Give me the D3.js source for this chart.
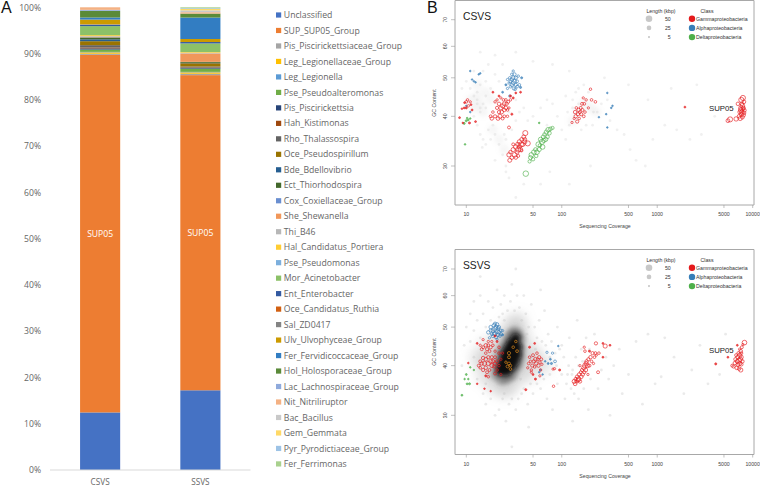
<!DOCTYPE html>
<html><head><meta charset="utf-8">
<script src="https://cdnjs.cloudflare.com/ajax/libs/d3/7.8.5/d3.min.js"></script>
<style>html,body{margin:0;background:#fff}svg{display:block}text{font-family:"Open Sans","Liberation Sans",sans-serif}</style>
</head><body><svg id="c" width="760" height="487"></svg>
<script>
const taxa=["Unclassified","SUP_SUP05_Group","Pis_Piscirickettsiaceae_Group","Leg_Legionellaceae_Group","Leg_Legionella","Pse_Pseudoalteromonas","Pis_Piscirickettsia","Hah_Kistimonas","Rho_Thalassospira","Oce_Pseudospirillum","Bde_Bdellovibrio","Ect_Thiorhodospira","Cox_Coxiellaceae_Group","She_Shewanella","Thi_B46","Hal_Candidatus_Portiera","Pse_Pseudomonas","Mor_Acinetobacter","Ent_Enterobacter","Oce_Candidatus_Ruthia","Sal_ZD0417","Ulv_Ulvophyceae_Group","Fer_Fervidicoccaceae_Group","Hol_Holosporaceae_Group","Lac_Lachnospiraceae_Group","Nit_Nitriliruptor","Bac_Bacillus","Gem_Gemmata","Pyr_Pyrodictiaceae_Group","Fer_Ferrimonas"];
const taxaColors=["#4472C4","#ED7D31","#A5A5A5","#FFC000","#5B9BD5","#70AD47","#264478","#9E480E","#636363","#997300","#255E91","#43682B","#698ED0","#F1975A","#B7B7B7","#FFCD33","#7CAFDD","#8CC168","#335AA1","#D26012","#848484","#CC9A00","#327DC2","#5A8A39","#8FAADC","#F4B183","#C9C9C9","#FFD966","#9DC3E6","#A9D18E"];
const samples=["CSVS","SSVS"];
const csvsShare=[12.4,77.0,.25,.3,.1,.5,.25,.2,.5,.85,.4,.4,.05,.1,.15,.2,0,1.95,.25,.05,.1,1.0,.45,1.45,.2,.55,0,0,0,0];
const ssvsShare=[17.1,67.6,.3,.3,.1,.7,.2,.1,.15,.7,.1,.2,0,1.8,.15,.15,0,1.85,.3,0,0,.65,4.6,.85,0,.3,.4,.3,.15,.2];
const yTicks=[0,10,20,30,40,50,60,70,80,90,100];

const classNames=["Gammaproteobacteria","Alphaproteobacteria","Deltaproteobacteria"];
const classColors=["#E41A1C","#377EB8","#4DAF4A"];
const lengthKeys=[50,25,5];
const xTickVals=[10,50,100,500,1000,5000,10000];
const gcTicks=[30,40,50,60,70];

const csvsGamma=[[18,40,10],[18.5,39.5,14],[19,41,8],[20,43.5,7],[20,40,12],[21,42,12],[21,44,6],[21.5,39.5,16],[22,41,12],[22,43,14],[22.5,40,20],[23,42,18],[23,44.5,6],[23.5,41,15],[24,39.5,10],[24,42.5,20],[24.5,44,8],[25,41.5,14],[25,43,18],[25,40,9],[26,42,15],[26,44,8],[26.5,43,12],[27,40,7],[27,41.5,8],[27.5,43.5,10],[28,42,6],[29,44,7],[30,40.5,5],[31,44.5,5],[33,45.8,4],[37,46,4],[28,37.5,10],[22,45,4],[19,46,4],[29,45,5],
[28.5,31,18],[28,32,22],[29,32.5,14],[30,31.5,16],[31,33,20],[32,32,25],[33,31.5,14],[33,33.5,25],[34,32.5,18],[34.5,34,20],[35,33,30],[36,33.5,18],[36,34.5,22],[37,33,20],[37.5,34,28],[38,35,16],[39,34,22],[40,35.5,18],[41,34.5,20],[41.5,36.3,30],[41,35,16],[44,34.2,30],[31,34,10],[35,31.8,10],[38,32.8,8],
[8.5,39.7,4],[9,41.8,3],[9.5,42,4],[10,43.5,8],[10.3,44,7],[10.5,42.5,7],[10,42,5],[11,43.5,6],[11.2,42.8,4],[10.8,38.5,5],[12.5,38.8,4],[9.2,38.5,3],[11.5,41.5,4],[9.6,43.3,4],
[128,38.6,6],[135,39.5,6],[138,41,14],[140,40,14],[142,42,8],[145,38.8,12],[148,40.5,12],[150,41.5,14],[152,39.5,8],[155,41,10],[158,42,10],[160,40.5,12],[163,43,10],[165,41.5,10],[168,44.5,6],[170,40,9],[172,43,9],[175,41,8],[180,44,7],[190,42,6],[200,46.8,7],[205,44,8],[225,43.5,8],
[6700,39.4,22],[5800,39.3,30],[5500,39,16],[7000,43,14],[7200,40,16],[7300,41,15],[7400,39.5,20],[7500,42,20],[7500,41.5,25],[7600,40.5,20],[7600,44,30],[7700,41,22],[7700,43,15],[7800,42.5,25],[7800,39.8,16],[7900,44.5,30],[7900,41.8,18],[8000,40.3,18],[8000,42,16],[8100,43.5,15],[8100,40.8,16],[8200,41.4,14],[1950,42.2,4]];
const csvsAlpha=[[26,48,5],[27,47,6],[28,48.5,6],[28.5,50,7],[29,49,10],[29,47.5,8],[30,51,8],[30,49.5,14],[30,48,14],[31,52,6],[31,50,16],[31,48.5,16],[31.5,47,12],[32,49,16],[32,51,12],[32.5,46.8,8],[33,50,12],[33,48,12],[34,49,10],[34,47.5,9],[35,50.5,7],[36,48,8],[37,47.3,5],[38,50,5],[27,49.5,6],[24,46,4],[28.5,45,6],[11,52,3],[11.5,49.5,3],[12,49,3],[12.5,48.7,3],[13.5,51,3],[14,51.3,3],[10,42.5,3],[11,41,3],[245,39.8,3],[300,45.8,3],[330,42,3],[340,42.5,3],[292,40.5,3],[300,37.5,3]];
const csvsDelta=[[42,28.7,35],[46,30.8,12],[47,31.5,18],[48,32,25],[50,31.2,14],[51,32.5,25],[53,33,16],[54,31.8,14],[55,32.5,25],[57,34,30],[58,33,20],[59,33.8,14],[60,35,22],[62,34.5,30],[63,33.5,25],[64,35.5,18],[65,34.8,22],[66,36,15],[68,35,20],[69,36.5,22],[71,35.5,14],[72,37,25],[74,36.3,18],[76,37.2,16],[80,37.4,12],[58,38.5,3],[9.5,38.4,5],[10,39,5],[10.5,39.2,4],[11,39.5,3],[9.7,34,3],[10.2,39.6,3]];
const csvsGrey=[[9,47],[10,49],[11,47],[12,45],[13,43],[14,41],[15,43],[16,45],[13,46],[14,48],[16,49],[18,47],[20,51],[22,49],[24,54],[13,38],[14,36],[15,35],[16,34],[18,35],[20,36],[22,34],[24,32],[26,30],[28,28],[26,29],[20,31],[17,37],[19,38],[25,36],[30,37],[33,39],[36,41],[40,42],[44,39],[50,40],[60,42],[70,44],[80,43],[90,40],[100,37],[120,38],[130,44],[140,46],[150,47],[170,48],[190,46],[215,41],[235,41],[260,43],[300,44],[320,39],[380,37],[450,36],[520,33],[600,31],[750,30],[900,35],[1200,38],[1600,37],[2200,35],[2900,36],[4000,40],[2600,48],[1400,47],[800,44],[500,48],[280,50],[120,52],[80,54],[50,55],[33,58],[20,57],[14,58],[12,52],[15,52],[17,54],[28,41],[33,44],[14,42],[13,44],[16,42],[12,40],[150,43],[130,42],[160,37],[180,38],[210,38],[115,41],[110,35],[75,29],[60,27],[120,27],[200,30],[40,27],[33,25],[110,45],[70,38],[26,35],[14.7,33.4]];
const csvsSmudge=[[11,44],[12,42],[13,45],[14,43],[15,41],[13,48],[16,46],[18,44],[19,37],[22,35],[25,33],[150,41],[170,43],[200,42],[130,39],[230,41]];

const ssvsGamma=[[13,45.5,4],[14,45,6],[14.5,44,10],[15,46.5,6],[15,44.5,10],[16,45,14],[16,43,8],[16.5,44,12],[17,46,6],[17,45,10],[17.5,43.5,10],[18,44.5,12],[18.5,46,6],[19,45,8],[20,47.5,5],[20,43.5,7],[21,46,5],[22,44.5,8],[13.5,40,10],[14,41,10],[14,39.5,8],[14.5,40.5,14],[15,41.8,14],[15,39,12],[15.5,40.5,20],[16,41.5,16],[16,39.5,14],[16.5,38.5,10],[17,40.5,20],[17,42,12],[17.5,39,10],[18,41,18],[18.5,40,18],[18.5,42,12],[19,41,16],[19.5,39.8,12],[20,40.5,15],[20,42,10],[20,38.2,10],[21,41,12],[21,39,8],[22,43,8],[22,40,8],[23,41.5,7],[24,43,6],[23,38,6],[17,37.5,7],[16,37.7,5],[13,36,3],[15.5,35,3],[18,34.5,3],[10.5,40.6,3],
[44,39.5,6],[45,40.5,8],[46,42,8],[47,41,7],[48,39,7],[48,38.5,6],[49,40,12],[50,42.5,10],[51,41,12],[52,39.7,8],[53,41.5,16],[54,40.5,14],[55,43,8],[56,41.5,10],[57,40,14],[58,42,12],[59,40.8,8],[60,39,7],[61,41.5,10],[62,40.3,6],[46,44.5,5],[52,45.5,4],[50,38,4],[53,37,5],[59,37.7,6],[42,34.8,5],[81,39.2,6],[84,39.3,6],[95,39,5],[82,35.5,7],
[135,36.5,20],[138,36,16],[140,37,14],[143,36.5,12],[145,37.5,15],[148,36.8,18],[150,37,25],[152,38,14],[155,36.5,14],[158,38.5,10],[160,37.5,16],[163,39,12],[166,38,14],[170,39.5,20],[172,38.5,12],[175,40,25],[178,39,18],[180,40.5,20],[182,41,14],[186,40,20],[190,41.5,12],[195,40,10],[200,42,14],[205,41,8],[210,43,12],[215,40.5,6],[220,42,8],[225,43,10],[230,42.5,6],[240,38.5,10],[175,43.5,8],[172,44.5,6],[228,45.5,12],[245,43,8],[270,45.5,4],[285,44.8,20],[320,45,4],[270,42,4],[188,38,6],[155,40,6],[195,43.5,5],
[4100,40.4,5],[5500,42,4],[6100,40,10],[6300,39.8,12],[6500,40.6,14],[6600,41.5,14],[6700,42.5,10],[6800,39.5,16],[6900,41,20],[7000,40.2,16],[7000,42,20],[7100,43,12],[7200,39.3,14],[7200,41.2,25],[7300,42.5,22],[7300,40.5,20],[7400,41.5,25],[7500,43.5,14],[7500,39,20],[7600,42,18],[7600,40.3,14],[7700,44.5,10],[7800,41,14],[7300,44,6],[6900,45,4],[8200,45.7,25],[7900,45.2,6],[7600,43,10]];
const ssvsAlpha=[[17,48.5,14],[17.5,47,6],[18,49,12],[18,50,14],[18.5,48,10],[19,49,16],[19,47.5,14],[19.5,50.5,16],[19.5,48,16],[20,51,12],[20,49.5,25],[20,48.2,18],[20.5,47.2,14],[20.5,50,18],[21,48.8,22],[21,50.8,14],[21.5,47.8,16],[21.5,49.6,16],[22,48.5,16],[22,50,12],[22.5,47.5,10],[23,49,10],[23,48,12],[24,49,6],[24,47.8,5],[21,46.6,6],[92,44.8,3],[70,43.2,6],[80,43,6],[67,41,3],[72,40.5,4],[76,41.5,4],[85,41,9],[78,40.5,5],[58,38.5,3],[60,39,3],[63,38,3]];
const ssvsDelta=[[10,38,4],[10.5,37,3],[10.8,36,5],[10.2,36,4],[9,33.7,4],[12,39,3],[11,39.6,3],[9.6,37,3]];
const ssvsOrange=[[31,44.5,8],[28,43,12],[28,42,10],[33,46,7],[34,43.5,9],[28,40.5,10],[29,40,8],[26,40.8,7],[27,39.8,9],[29,39.2,8]];
const ssvsCore=[[22.5,38.8],[23,40],[23.5,39],[24,41],[24.5,38.6],[25,40],[25,42.5],[26,39],[26,41.5],[26.5,43.5],[27,38.8],[27,40.5],[28,39.5],[28,42],[28,44.5],[29,41],[29,43],[29.5,45.5],[30,39.8],[30.5,42],[31,44],[31,46],[32,41],[32.5,43],[33,45],[33,46.8],[34,42.5],[34.5,44.5]];
const ssvsMid=[[20,38],[21,40],[22,42.5],[23,37],[24,44],[25.5,37],[26,45.5],[28,37.5],[28,47],[30,48],[30.5,38],[32,48.5],[33,39.5],[35,40.5],[35,48],[36.5,42],[37,44],[37,46.5]];
const ssvsHalo=[[17,41],[18,37],[19,43],[20,35.5],[22,45],[24,35],[25,47],[27,34.8],[28,50],[30,36],[32,51],[34,37.5],[36,49.5],[38,39],[40,47],[42,41],[44,44],[46,38],[50,43],[56,41],[23,47],[35,52],[65,40],[15,41],[16,45],[13,42],[15,38]];
const ssvsGrey=[[9.5,45],[10,50],[11,46],[11,54],[12,42],[12,49],[12,58],[13,52],[13,37],[14,47],[14,60],[15,54],[15,34],[16,50],[16,32],[17,58],[18,52],[18,33],[19,56],[20,30],[21,62],[22,53],[22,31],[23,57],[24,33],[25,52],[25,60],[26,29],[27,55],[28,32],[29,58],[30,33],[30,64],[32,55],[33,31],[34,60],[35,33],[36,56],[38,34],[38,52],[40,60],[40,35],[42,54],[44,32],[45,50],[47,36],[48,57],[50,34],[52,50],[55,36],[55,47],[58,52],[60,35],[62,46],[65,37],[66,55],[68,45],[70,33],[72,48],[75,38],[78,46],[80,31],[85,43],[90,50],[90,36],[95,44],[100,38],[105,42],[108,33],[112,36],[118,40],[120,47],[125,35],[130,39],[135,34],[140,42],[145,52],[150,33],[160,44],[170,35],[180,47],[190,31],[200,37],[220,48],[240,35],[260,39],[290,42],[310,37],[350,40],[400,44],[430,34],[500,38],[600,46],[700,32],[800,48],[950,36],[1100,37.5],[1200,47],[1500,42],[1900,34],[2300,39],[2800,45],[3400,36],[4500,38],[5200,48],[14,67],[9,40],[33,70],[60,62],[30,25],[45,28],[130,29],[320,30],[47,42],[24,54],[19,49],[16,36],[25,34],[37,37],[43,48],[53,44],[75,42],[88,40],[100,45],[115,38],[128,38],[150,40],[165,41],[195,44]];

const svg=d3.select("#c");
const defs=svg.append("defs");
[["soft",.45],["blur3",2.2],["blur5",5]].forEach(([id,s])=>{
  defs.append("filter").attr("id",id).attr("x","-60%").attr("y","-60%").attr("width","220%").attr("height","220%")
    .append("feGaussianBlur").attr("stdDeviation",s);
});
const greyText="#666";

/* Panel A */
svg.append("text").attr("x",1).attr("y",13).attr("font-size",16).attr("fill","#111").style("font-family",'"Liberation Sans",sans-serif').text("A");
const yBar=d3.scaleLinear().domain([0,100]).range([470,7.3]);
const xBar=d3.scaleBand().domain(samples).range([50,250.5]).paddingInner(.6).paddingOuter(.3);
const rows=samples.map((s,j)=>{const o={sample:s};const src=j?ssvsShare:csvsShare;taxa.forEach((t,i)=>o[t]=src[i]);return o;});
const stacked=d3.stack().keys(taxa).offset(d3.stackOffsetExpand)(rows);
const bars=svg.append("g").attr("filter","url(#soft)");
stacked.forEach((layer,i)=>{
  bars.selectAll(null).data(layer).join("rect")
    .attr("x",d=>xBar(d.data.sample)).attr("width",xBar.bandwidth())
    .attr("y",d=>yBar(d[1]*100)).attr("height",d=>Math.max(0,yBar(d[0]*100)-yBar(d[1]*100)))
    .attr("fill",taxaColors[i]);
});
svg.append("g").selectAll("text").data(yTicks).join("text")
  .attr("x",41).attr("y",d=>yBar(d)+3.2).attr("text-anchor","end").attr("font-size",8.6).attr("fill",greyText).text(d=>d+"%");
svg.append("line").attr("x1",50).attr("x2",250.5).attr("y1",470).attr("y2",470).attr("stroke","#d9d9d9");
svg.append("g").selectAll("text").data(samples).join("text")
  .attr("x",d=>xBar(d)+xBar.bandwidth()/2).attr("y",484.5).attr("text-anchor","middle").attr("font-size",8.2).attr("fill",greyText).text(d=>d);
svg.append("g").selectAll("text").data(stacked.slice(1,2).flatMap(l=>[...l])).join("text")
  .attr("x",d=>xBar(d.data.sample)+xBar.bandwidth()/2).attr("y",d=>yBar((d[0]+d[1])*50)+3)
  .attr("text-anchor","middle").attr("font-size",8.6).attr("fill","#fff").text("SUP05");
const lg=svg.append("g").selectAll("g").data(taxa).join("g").attr("transform",(d,i)=>`translate(276,${15+i*15.48})`);
lg.append("rect").attr("y",-2.6).attr("width",5.2).attr("height",5.2).attr("fill",(d,i)=>taxaColors[i]);
lg.append("text").attr("x",7.8).attr("y",3.1).attr("font-size",8.7).attr("fill",greyText).text(d=>d);

/* Panel B */
const sans='"Liberation Sans",sans-serif';
svg.append("text").attr("x",427).attr("y",13).attr("font-size",16).attr("fill","#111").style("font-family",sans).text("B");
const x=d3.scaleLog().domain([10,10000]).range([466.3,752.7]);
const rScale=d3.scaleSqrt().domain([0,50]).range([0,3.3]);
function panel(o){
  const y=d3.scaleLog().domain([30,70]).range([o.y30,o.y70]);
  const g=svg.append("g");
  const clipId="clip"+o.name;
  defs.append("clipPath").attr("id",clipId).append("rect").attr("x",455).attr("y",o.top).attr("width",299).attr("height",o.bottom-o.top);
  const area=g.append("g").attr("clip-path",`url(#${clipId})`);
  (o.blobs||[]).forEach(b=>{
    area.append("g").attr("filter",`url(#${b.f})`).selectAll("circle").data(b.data).join("circle")
      .attr("cx",d=>x(d[0])).attr("cy",d=>y(d[1])).attr("r",b.r).attr("fill",b.c).attr("opacity",b.op);
  });
  area.append("g").attr("filter","url(#soft)").selectAll("circle").data(o.grey).join("circle")
    .attr("cx",d=>x(d[0])).attr("cy",d=>y(d[1])).attr("r",1.4).attr("fill","#bbb").attr("opacity",o.greyOp);
  const marks=area.append("g").attr("filter","url(#soft)");
  o.sets.forEach(s=>{
    marks.append("g").selectAll("circle").data(s.data).join("circle")
      .attr("cx",d=>x(d[0])).attr("cy",d=>y(d[1])).attr("r",d=>rScale(d[2]))
      .attr("fill",d=>d[2]<=5?s.c:"none").attr("fill-opacity",.7).attr("stroke",s.c).attr("stroke-width",.7).attr("stroke-opacity",.9);
  });
  g.append("path").attr("d",`M455,${o.top}H754V${o.bottom}H455Z`).attr("fill","none").attr("stroke","#a8a8a8").attr("stroke-width",1);
  const ax=g.append("g").attr("fill","#444");
  const lab=(sel)=>sel.style("font-family",sans).attr("font-size",5.2);
  xTickVals.forEach(v=>{
    g.append("line").attr("x1",x(v)).attr("x2",x(v)).attr("y1",o.bottom).attr("y2",o.bottom+3).attr("stroke","#999").attr("stroke-width",.6);
    lab(ax.append("text")).attr("x",x(v)).attr("y",o.bottom+11).attr("text-anchor","middle").text(v);
  });
  gcTicks.forEach(v=>{
    g.append("line").attr("x1",451).attr("x2",455).attr("y1",y(v)).attr("y2",y(v)).attr("stroke","#999").attr("stroke-width",.6);
    lab(ax.append("text")).attr("transform",`translate(447,${y(v)}) rotate(-90)`).attr("text-anchor","middle").text(v);
  });
  lab(ax.append("text")).attr("x",605).attr("y",o.bottom+23.4).attr("text-anchor","middle").text("Sequencing Coverage");
  lab(ax.append("text")).attr("transform",`translate(435.5,${o.axisMid}) rotate(-90)`).attr("text-anchor","middle").text("GC Content");
  g.append("text").attr("x",463).attr("y",o.top+19).style("font-family",sans).attr("font-size",10.3).attr("fill","#222").text(o.name);
  g.append("text").attr("x",709).attr("y",o.supY).style("font-family",sans).attr("font-size",7.8).attr("fill","#222").text("SUP05");
  const leg=g.append("g").attr("fill","#333");
  lab(leg.append("text")).attr("x",661).attr("y",o.top+12.2).attr("text-anchor","middle").text("Length (kbp)");
  lab(leg.append("text")).attr("x",707).attr("y",o.top+12.2).attr("text-anchor","middle").text("Class");
  lengthKeys.forEach((k,i)=>{
    const yy=o.top+18.2+i*9.2;
    leg.append("circle").attr("cx",649).attr("cy",yy).attr("r",rScale(k)).attr("fill","#c8c8c8");
    lab(leg.append("text")).attr("x",670.7).attr("y",yy+1.8).attr("text-anchor","end").text(k);
  });
  classNames.forEach((n,i)=>{
    const yy=o.top+18.2+i*9.2;
    leg.append("circle").attr("cx",692).attr("cy",yy).attr("r",3.2).attr("fill",classColors[i]);
    lab(leg.append("text")).attr("x",696).attr("y",yy+1.8).text(n);
  });
}
panel({name:"CSVS",top:0.5,bottom:205,y30:166,y70:19.7,axisMid:103,supY:111,greyOp:.22,grey:csvsGrey,
  blobs:[{data:csvsSmudge,r:5,c:"#aaa",op:.1,f:"blur3"}],
  sets:[{data:csvsDelta,c:classColors[2]},{data:csvsAlpha,c:classColors[1]},{data:csvsGamma,c:classColors[0]}]});
panel({name:"SSVS",top:249.5,bottom:454.5,y30:415.3,y70:269,axisMid:352,supY:353,greyOp:.3,grey:ssvsGrey,
  blobs:[{data:ssvsHalo,r:10,c:"#999",op:.16,f:"blur5"},{data:ssvsMid,r:6,c:"#555",op:.4,f:"blur3"},{data:ssvsCore,r:5,c:"#0a0a0a",op:.9,f:"blur3"}],
  sets:[{data:ssvsDelta,c:classColors[2]},{data:ssvsAlpha,c:classColors[1]},{data:ssvsGamma,c:classColors[0]},{data:ssvsOrange,c:"#E8901C"}]});
</script></body></html>
